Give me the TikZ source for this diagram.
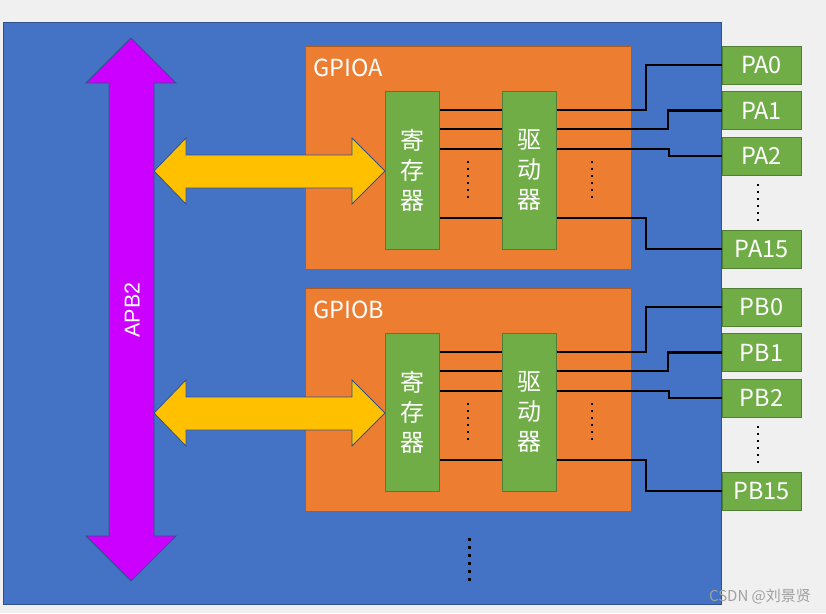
\documentclass[tikz,border=0pt]{standalone}
\usepackage{fontspec}
\setmainfont{Noto Sans CJK SC}
\newfontfamily\arialfont{Liberation Sans}
\definecolor{bgc}{HTML}{F0F0F0}
\definecolor{bluef}{HTML}{4472C4}
\definecolor{blueb}{HTML}{2F528F}
\definecolor{orangef}{HTML}{ED7D31}
\definecolor{orangeb}{HTML}{AE5A21}
\definecolor{greenf}{HTML}{70AD47}
\definecolor{greenb}{HTML}{507E32}
\definecolor{purplef}{HTML}{CC00FF}
\definecolor{yellowf}{HTML}{FFC000}
\definecolor{wmark}{HTML}{A0A0A0}
\tikzset{
  chip/.style={draw=blueb, fill=bluef, line width=1pt},
  gpio/.style={draw=orangeb, fill=orangef, line width=1pt, anchor=north west, minimum width=326pt, minimum height=223pt, inner sep=0pt},
  gbox/.style={draw=greenb, fill=greenf, line width=1pt, minimum width=54pt, minimum height=158pt, inner sep=0pt, text=white, align=center, font=\fontsize{24}{30}\selectfont},
  pin/.style={draw=greenb, fill=greenf, line width=1pt, minimum width=79pt, minimum height=38pt, inner sep=0pt, text=white, font=\fontsize{23.5}{26}\selectfont},
  lbl/.style={text=white, inner sep=0pt, font=\fontsize{23.5}{26}\selectfont},
  wire/.style={draw=black, line width=2.1pt},
  busarrow/.style={draw=blueb, line width=0.8pt},
}
\begin{document}
\begin{tikzpicture}[x=1pt,y=-1pt]
\fill[bgc] (0,0) rectangle (826,613);
\useasboundingbox (0,0) rectangle (826,613);
% main chip
\draw[chip] (3,22) rectangle (721,604);
% APB2 bus arrow
\draw[busarrow, fill=purplef] (131,38) -- (176,83) -- (154,83) -- (154,536) -- (176,536) -- (131,581) -- (86,536) -- (109,536) -- (109,83) -- (86,83) -- cycle;
\node[text=white, rotate=90, font=\arialfont\fontsize{21.5}{24}\selectfont, inner sep=0pt] (apb) at (132,310) {APB2};
\foreach \g/\o in {A/0,B/242}{
  \node[gpio] (gpio\g) at (305,46+\o) {};
  \node[lbl, anchor=base west] (gpio\g lbl) at (313,76+\o) {GPIO\g};
  % yellow double arrow
  \draw[busarrow, fill=yellowf] (154,171+\o) -- (186,138+\o) -- (186,155+\o) -- (352,155+\o) -- (352,138+\o) -- (385,171+\o) -- (352,204+\o) -- (352,188+\o) -- (186,188+\o) -- (186,204+\o) -- cycle;
  \node[gbox] (reg\g) at (412,170+\o) {寄\\存\\器};
  \node[gbox] (drv\g) at (529,170+\o) {驱\\动\\器};
  \node[pin] (P\g0) at (761.5,65+\o) {P\g0};
  \node[pin] (P\g1) at (761.5,110.5+\o) {P\g1};
  \node[pin] (P\g2) at (761.5,156+\o) {P\g2};
  \node[pin] (P\g15) at (761.5,249+\o) {P\g15};
  % wires between register and driver
  \foreach \y in {110,129,149,218}{
    \draw[wire] (reg\g.east |- 0,\y+\o) -- (drv\g.west |- 0,\y+\o);
  }
  % wires to pins
  \draw[wire] (drv\g.east |- 0,110+\o) -- (646,110+\o) |- (P\g0.west);
  \draw[wire] (drv\g.east |- 0,129+\o) -- (668,129+\o) |- (P\g1.west);
  \draw[wire] (drv\g.east |- 0,149+\o) -- (669,149+\o) |- (P\g2.west);
  \draw[wire] (drv\g.east |- 0,218+\o) -- (646,218+\o) |- (P\g15.west);
  % dots
  \foreach \k in {0,...,5}{
    \fill (467,161+\k*6.9+\o) rectangle +(2.3,2.3);
    \fill (591,161+\k*6.9+\o) rectangle +(2.3,2.3);
    \fill (757,184+\k*7+\o) rectangle +(2.3,2.3);
  }
}
\foreach \k in {0,...,5}{
  \fill (468,538+\k*8) rectangle +(2.5,2.5);
}
\node[text=wmark, font=\fontsize{15}{17}\selectfont, inner sep=0pt] (wm) at (760,596) {CSDN @刘景贤};
\end{tikzpicture}
\end{document}
